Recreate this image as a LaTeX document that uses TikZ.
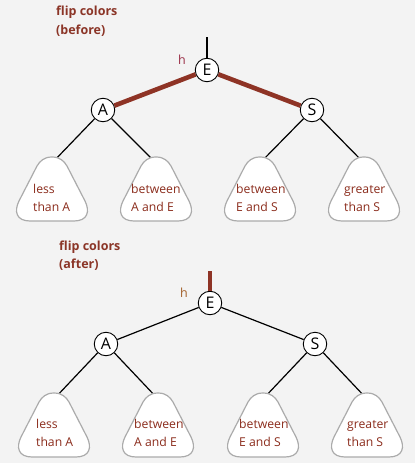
\documentclass[tikz,border=0pt]{standalone}
\usepackage{fontspec}
\setmainfont{Open Sans}
\definecolor{bg}{HTML}{F3F3F3}
\definecolor{linkred}{HTML}{8E3325}
\definecolor{txtred}{HTML}{8B2C1C}
\definecolor{ttlred}{HTML}{8B3527}
\definecolor{htop}{HTML}{9B3048}
\definecolor{hbot}{HTML}{A3602A}
\definecolor{boxgray}{HTML}{ABABAB}
\begin{document}
\begin{tikzpicture}[x=1pt,y=-1pt,
  key/.style={circle,draw=black,fill=white,line width=0.9pt,minimum size=23.5pt,inner sep=0pt,font=\fontsize{16}{16}\selectfont},
  blk/.style={line width=1.2pt,black},
  redl/.style={line width=4.6pt,linkred},
  treebox/.style={draw=boxgray,fill=white,line width=1.2pt},
  lbl/.style={anchor=base west,inner sep=0pt,text=txtred,font=\fontsize{12.2}{14}\selectfont},
  ttl/.style={anchor=base west,inner sep=0pt,text=ttlred,font=\bfseries\fontsize{12.5}{14}\selectfont},
  hlbl/.style={inner sep=0pt,font=\fontsize{12.5}{14}\selectfont},
  subtree/.pic={\path[treebox] (0,0) .. controls (8,0) and (12,4) .. (15,9) -- (33,44)
      .. controls (38,54) and (36,64) .. (22,64) -- (-22,64)
      .. controls (-36,64) and (-38,54) .. (-33,44) -- (-15,9)
      .. controls (-12,4) and (-8,0) .. cycle;}
]
\useasboundingbox[fill=bg] (0,0) rectangle (415,463);

% ---------- before ----------
\node[ttl] (t1) at (56,16) {flip colors};
\node[ttl] (t2) at (56,34.5) {(before)};

\node[key] (E1) at (207,70) {E};
\node[key] (A1) at (103,110) {A};
\node[key] (S1) at (312,110) {S};
\coordinate (up1) at (207,37);
\node[hlbl,text=htop] (h1) at (182,60) {h};

\draw[blk] (up1) -- (E1);
\draw[redl] (E1) -- (A1);
\draw[redl] (E1) -- (S1);

\coordinate (c11) at (52,163);
\coordinate (c12) at (156,163);
\coordinate (c13) at (260,163);
\coordinate (c14) at (364,163);
\draw[blk] (A1) -- (c11);
\draw[blk] (A1) -- (c12);
\draw[blk] (S1) -- (c13);
\draw[blk] (S1) -- (c14);
\pic at (52,157) {subtree};
\pic at (156,157) {subtree};
\pic at (260,157) {subtree};
\pic at (364,157) {subtree};
\node[lbl] (a11) at (33,193.5) {less};
\node[lbl] (a12) at (33,211.5) {than A};
\node[lbl] (a21) at (131,193.5) {between};
\node[lbl] (a22) at (131,211.5) {A and E};
\node[lbl] (a31) at (236,193.5) {between};
\node[lbl] (a32) at (236,211.5) {E and S};
\node[lbl] (a41) at (344,193.5) {greater};
\node[lbl] (a42) at (344,211.5) {than S};

% ---------- after ----------
\node[ttl] (t3) at (59,250) {flip colors};
\node[ttl] (t4) at (59,268.5) {(after)};

\node[key] (E2) at (210,303) {E};
\node[key] (A2) at (106,344) {A};
\node[key] (S2) at (315,344) {S};
\coordinate (up2) at (210,271);
\node[hlbl,text=hbot] (h2) at (184,293) {h};

\draw[redl] (up2) -- (E2);
\draw[blk] (E2) -- (A2);
\draw[blk] (E2) -- (S2);

\coordinate (c21) at (54,399);
\coordinate (c22) at (158,399);
\coordinate (c23) at (263,399);
\coordinate (c24) at (367,399);
\draw[blk] (A2) -- (c21);
\draw[blk] (A2) -- (c22);
\draw[blk] (S2) -- (c23);
\draw[blk] (S2) -- (c24);
\pic at (54,393) {subtree};
\pic at (158,393) {subtree};
\pic at (263,393) {subtree};
\pic at (367,393) {subtree};
\node[lbl] (b11) at (36,428.5) {less};
\node[lbl] (b12) at (36,446.5) {than A};
\node[lbl] (b21) at (134,428.5) {between};
\node[lbl] (b22) at (134,446.5) {A and E};
\node[lbl] (b31) at (239,428.5) {between};
\node[lbl] (b32) at (239,446.5) {E and S};
\node[lbl] (b41) at (347,428.5) {greater};
\node[lbl] (b42) at (347,446.5) {than S};
\end{tikzpicture}
\end{document}
